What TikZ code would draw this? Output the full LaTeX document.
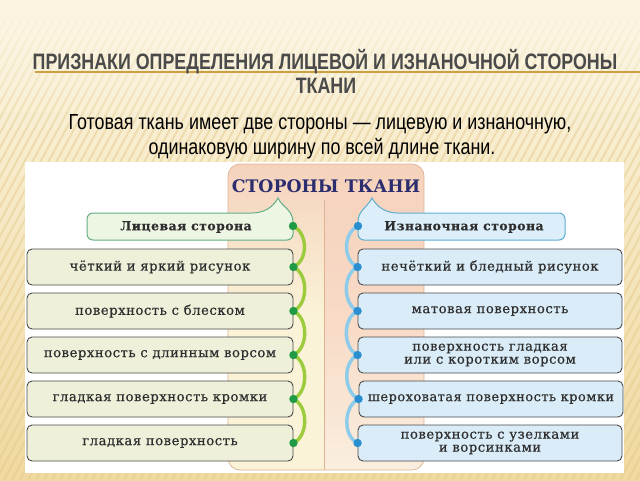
\documentclass[tikz,border=0pt]{standalone}
\usepackage{fontspec}
\setmainfont{DejaVu Serif}
\newfontfamily\narrowfont[FakeStretch=0.82]{Liberation Sans}
\newfontfamily\titlefont[FakeStretch=0.8]{Liberation Sans Bold}
\newfontfamily\boxfont[LetterSpace=4,FakeBold=0.5]{DejaVu Serif}
\usetikzlibrary{fadings}
\definecolor{bgTop}{HTML}{FBF5E2}
\definecolor{bgBot}{HTML}{F0D9A0}
\definecolor{stripeC}{HTML}{E4C888}
\definecolor{titleC}{HTML}{4A4A4A}
\definecolor{ulineC}{HTML}{C9A043}
\definecolor{fillL}{HTML}{EEF0DA}
\definecolor{fillR}{HTML}{D9ECF7}
\definecolor{hdrFillL}{HTML}{EDF6E3}
\definecolor{hdrFillR}{HTML}{DCEEF9}
\definecolor{hdrEdgeL}{HTML}{62AE84}
\definecolor{hdrEdgeR}{HTML}{5FAECF}
\definecolor{boxEdge}{HTML}{4A4A4A}
\definecolor{txtC}{HTML}{2E2E2E}
\definecolor{peach}{HTML}{F5D2BC}
\definecolor{cream}{HTML}{FAF3D8}
\definecolor{pinkMid}{HTML}{F8DAC6}
\definecolor{pinkBot}{HTML}{FAEEDF}
\definecolor{panelEdge}{HTML}{DDB295}
\definecolor{navy}{HTML}{2B2D6E}
\definecolor{arcG}{HTML}{9CCB3E}
\definecolor{dotG}{HTML}{1F9A45}
\definecolor{arcB}{HTML}{8CCBEA}
\definecolor{dotB}{HTML}{2A8FD0}
\begin{document}
\begin{tikzpicture}[x=1pt,y=-1pt,
  itemL/.style={draw=boxEdge, line width=0.9pt, rounded corners=5pt, fill=fillL,
    minimum width=266pt, minimum height=36pt, inner sep=0pt, align=center,
    font=\boxfont\fontsize{13.2}{14.5}\selectfont, text=txtC},
  itemR/.style={itemL, fill=fillR, minimum width=264pt},
  hdrtext/.style={inner sep=0pt, font=\boxfont\bfseries\fontsize{12.4}{14}\selectfont, text=txtC},
  stripe/.style={draw=stripeC, line width=2pt, opacity=0.45},
  greenArc/.style={draw=arcG, line width=3.4pt},
  blueArc/.style={draw=arcB, line width=3.4pt},
  dotGs/.style={fill=dotG},
  dotBs/.style={fill=dotB}]
\useasboundingbox (0,0) rectangle (640,480);
% background
\shade[top color=bgTop, bottom color=bgBot] (0,0) rectangle (640,480);
\begin{scope}
  \clip (0,0) rectangle (640,480);
  \foreach \i in {-300,-292,...,660} { \draw[stripe] (\i,480) -- (\i+260,0); }
\end{scope}
\fill[bgTop, path fading=south] (0,0) rectangle (640,130);
% title
\draw[ulineC, line width=1.2pt] (35,72) -- (640,72);
\node[anchor=base, inner sep=0pt, font=\titlefont\fontsize{22.3}{24}\selectfont, text=titleC] (t1) at (325,69) {ПРИЗНАКИ ОПРЕДЕЛЕНИЯ ЛИЦЕВОЙ И ИЗНАНОЧНОЙ СТОРОНЫ};
\node[anchor=base, inner sep=0pt, font=\titlefont\fontsize{22.3}{24}\selectfont, text=titleC] (t2) at (326,93) {ТКАНИ};
\node[anchor=base, inner sep=0pt, font=\narrowfont\fontsize{21.8}{24}\selectfont, text=black] (s1) at (320,129) {Готовая ткань имеет две стороны — лицевую и изнаночную,};
\node[anchor=base, inner sep=0pt, font=\narrowfont\fontsize{21.8}{24}\selectfont, text=black] (s2) at (322,154) {одинаковую ширину по всей длине ткани.};
% picture area
\fill[white] (25,162) rectangle (624,473);
% central panel
\begin{scope}
  \clip[rounded corners=12pt] (228,164) rectangle (424,470);
  \shade[top color=peach, bottom color=cream, middle color=cream] (228,164) rectangle (324,470);
  \shade[top color=peach, bottom color=pinkBot, middle color=pinkMid] (324,164) rectangle (424,470);
\end{scope}
\draw[panelEdge, line width=0.7pt, rounded corners=12pt] (228,164) rectangle (424,470);
\draw[panelEdge, line width=0.7pt] (324,200) -- (324,470);
\node[inner sep=0pt, font=\bfseries\fontsize{17.3}{20}\selectfont, text=navy] (pt) at (326,186) {СТОРОНЫ ТКАНИ};
% headers
\draw[draw=hdrEdgeL, fill=hdrFillL, line width=1pt]
  (87,226) [rounded corners=6pt] -- (87,213) -- (246,213) [sharp corners]
  .. controls (262,213) and (272,209) .. (278,198)
  .. controls (282,207) and (293,210) .. (293,222) [rounded corners=6pt]
  -- (293,240) -- (87,240) -- cycle;
\draw[draw=hdrEdgeR, fill=hdrFillR, line width=1pt]
  (565,226) [rounded corners=6pt] -- (565,213) -- (404,213) [sharp corners]
  .. controls (388,213) and (378,209) .. (372,198)
  .. controls (368,207) and (358,210) .. (358,222) [rounded corners=6pt]
  -- (358,240) -- (565,240) -- cycle;
\node[hdrtext] (hlt) at (186,227) {Лицевая сторона};
\node[hdrtext] (hrt) at (464,227) {Изнаночная сторона};
\coordinate (hl) at (293,226);
\coordinate (hr) at (358,226);
% items
\node[itemL] (l1) at (160,267) {чёткий и яркий рисунок};
\node[itemL] (l2) at (160,311) {поверхность с блеском};
\node[itemL] (l3) at (160,355) {поверхность с длинным ворсом};
\node[itemL] (l4) at (160,399) {гладкая поверхность кромки};
\node[itemL] (l5) at (160,443) {гладкая поверхность};
\node[itemR] (r1) at (490,267) {нечёткий и бледный рисунок};
\node[itemR] (r2) at (490,311) {матовая поверхность};
\node[itemR] (r3) at (490,355) {поверхность гладкая\\[-1.5pt]или с коротким ворсом};
\node[itemR, font=\boxfont\fontsize{12.9}{14.5}\selectfont] (r4) at (491,399) {шероховатая поверхность кромки};
\node[itemR] (r5) at (490,443) {поверхность с узелками\\[-1.5pt]и ворсинками};
% connectors
\foreach \a/\b in {hl/l1.east, l1.east/l2.east, l2.east/l3.east, l3.east/l4.east, l4.east/l5.east} {
  \draw[greenArc] (\a) .. controls +(15,7) and +(15,-7) .. (\b);
}
\foreach \a/\b in {hr/r1.west, r1.west/r2.west, r2.west/r3.west, r3.west/r4.west, r4.west/r5.west} {
  \draw[blueArc] (\a) .. controls +(-15,7) and +(-15,-7) .. (\b);
}
\foreach \n in {hl, l1.east, l2.east, l3.east, l4.east, l5.east} { \fill[dotGs] (\n) circle (4.2pt); }
\foreach \n in {hr, r1.west, r2.west, r3.west, r4.west, r5.west} { \fill[dotBs] (\n) circle (4.2pt); }
\end{tikzpicture}
\end{document}
